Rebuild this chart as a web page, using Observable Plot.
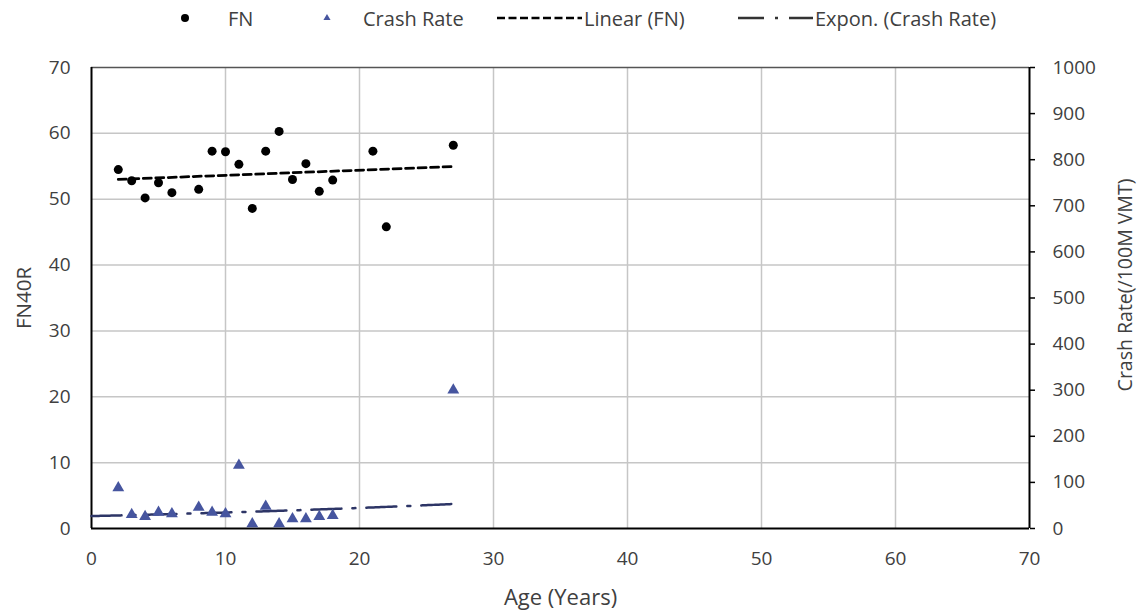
<!DOCTYPE html>
<html>
<head>
<meta charset="utf-8">
<script src="https://cdn.jsdelivr.net/npm/d3@7"></script>
<script src="https://cdn.jsdelivr.net/npm/@observablehq/plot@0.6"></script>
<style>
  html, body { margin: 0; padding: 0; background: #fff; }
  body { width: 1143px; height: 611px; overflow: hidden; font-family: "Open Sans", sans-serif; }
  #legend { position: relative; height: 36px; width: 1143px; color: #404040; font-size: 20px; }
  #legend .item { position: absolute; top: 0; height: 36px; display: flex; align-items: center; white-space: nowrap; }
  #legend svg { display: block; }
</style>
</head>
<body>
<div id="legend"></div>
<div id="chart"></div>
<script>
// ---- data ----
const fnAges = [2, 3, 4, 5, 6, 8, 9, 10, 11, 12, 13, 14, 15, 16, 17, 18, 21, 22, 27];
const fnValues = [54.5, 52.8, 50.2, 52.5, 51.0, 51.5, 57.3, 57.2, 55.3, 48.6, 57.3, 60.3, 53.0, 55.4, 51.2, 52.9, 57.3, 45.8, 58.2];
const crashAges = [2, 3, 4, 5, 6, 8, 9, 10, 11, 12, 13, 14, 15, 16, 17, 18, 27];
const crashRates = [88, 30, 26, 35, 32, 46, 35, 32, 137, 10, 48, 10, 21, 21, 26, 28, 300];
const xTicks = [0, 10, 20, 30, 40, 50, 60, 70];
const yLeftTicks = [0, 10, 20, 30, 40, 50, 60, 70];
const yRightTicks = [0, 100, 200, 300, 400, 500, 600, 700, 800, 900, 1000];
const legendLabels = ["FN", "Crash Rate", "Linear (FN)", "Expon. (Crash Rate)"];
const xTitle = "Age (Years)";
const yLeftTitle = "FN40R";
const yRightTitle = "Crash Rate(/100M VMT)";
const expBackwardForecast = 2; // trendline forecast backward (periods)

// ---- derived tables ----
const leftMax = 70, rightMax = 1000;
const k = leftMax / rightMax; // right axis -> left axis units
const fnData = fnAges.map((a, i) => ({age: a, fn: fnValues[i]}));
const crashData = crashAges.map((a, i) => ({age: a, rate: crashRates[i], y: crashRates[i] * k}));

// Excel-style exponential trendline: least squares on ln(y)
const mx = d3.mean(crashAges), ml = d3.mean(crashRates, v => Math.log(v));
const sxy = d3.sum(crashAges, (x, i) => (x - mx) * (Math.log(crashRates[i]) - ml));
const sxx = d3.sum(crashAges, x => (x - mx) ** 2);
const b = sxy / sxx, a = Math.exp(ml - b * mx);
const x0 = d3.min(crashAges) - expBackwardForecast, x1 = d3.max(crashAges);
const expTrend = d3.range(0, 201).map(i => {
  const x = x0 + (x1 - x0) * i / 200;
  return {age: x, y: a * Math.exp(b * x) * k};
});

const textColor = "#404040";
const gridColor = "#c6c6c6";
const fnColor = "#000000";
const crashColor = "#46559f";
const expColor = "#2d3566";

const chart = Plot.plot({
  width: 1143,
  height: 575,
  marginLeft: 91,
  marginRight: 114,
  marginTop: 31,
  marginBottom: 83,
  style: {fontFamily: "'Open Sans', sans-serif", fontSize: "19px", color: textColor, background: "#fff"},
  x: {domain: [0, 70]},
  y: {domain: [0, 70]},
  marks: [
    Plot.gridX(xTicks.slice(1, -1), {stroke: gridColor, strokeOpacity: 1, strokeWidth: 1.5}),
    Plot.gridY(yLeftTicks.slice(1, -1), {stroke: gridColor, strokeOpacity: 1, strokeWidth: 1.5}),
    Plot.ruleY([leftMax], {stroke: "#555", strokeWidth: 1.5}),
    Plot.axisX(xTicks, {tickSize: 0, tickPadding: 23, label: null, fontSize: 19, fill: textColor}),
    Plot.axisY(yLeftTicks, {anchor: "left", tickSize: 0, tickPadding: 21, label: null, fontSize: 19, fill: textColor}),
    Plot.axisY(yRightTicks.map(v => v * k), {
      anchor: "right", tickSize: 5, tickPadding: 18, label: null, fontSize: 19, fill: textColor,
      stroke: "#000", strokeWidth: 1.5,
      tickFormat: d => String(Math.round(d / k))
    }),
    Plot.ruleX([0], {stroke: "#000", strokeWidth: 2}),
    Plot.ruleX([70], {stroke: "#000", strokeWidth: 2}),
    Plot.ruleY([0], {stroke: "#000", strokeWidth: 2}),
    Plot.text([xTitle], {frameAnchor: "bottom", dy: 69, lineAnchor: "middle", textAnchor: "middle", fontSize: 22, fill: textColor}),
    Plot.text([yLeftTitle], {frameAnchor: "left", dx: -67, dy: 0, rotate: -90, lineAnchor: "middle", textAnchor: "middle", fontSize: 20.5, fill: textColor}),
    Plot.text([yRightTitle], {frameAnchor: "right", dx: 96, dy: -13, rotate: -90, lineAnchor: "middle", textAnchor: "middle", fontSize: 19.5, fill: textColor}),
    Plot.linearRegressionY(fnData, {x: "age", y: "fn", ci: 0, stroke: "#000", strokeWidth: 2.75, strokeDasharray: "8,4.5"}),
    Plot.line(expTrend, {x: "age", y: "y", stroke: expColor, strokeWidth: 2.5, strokeDasharray: "30,11,3,11"}),
    Plot.dot(fnData, {x: "age", y: "fn", r: 4.5, fill: fnColor, stroke: "none"}),
    Plot.dot(crashData, {x: "age", y: "y", symbol: "triangle", r: 4.4, fill: crashColor, stroke: "none"})
  ]
});
document.getElementById("chart").appendChild(chart);

// ---- legend ----
const legend = d3.select("#legend");
const legendLeft = [178, 319, 496, 737];
const swatchW = [50, 44, 88, 78];
legendLabels.forEach((label, i) => {
  const item = legend.append("div").attr("class", "item").style("left", legendLeft[i] + "px");
  const svg = item.append("svg").attr("width", swatchW[i]).attr("height", 20);
  if (i === 0) svg.append("circle").attr("cx", 7).attr("cy", 10).attr("r", 4).attr("fill", fnColor);
  if (i === 1) svg.append("path").attr("d", d3.symbol(d3.symbolTriangle, 22)()).attr("transform", "translate(8,10)").attr("fill", crashColor);
  if (i === 2) svg.append("line").attr("x1", 1).attr("x2", swatchW[i] - 2).attr("y1", 10).attr("y2", 10)
    .attr("stroke", "#000").attr("stroke-width", 2.5).attr("stroke-dasharray", "8,3.5");
  if (i === 3) svg.append("line").attr("x1", 1).attr("x2", swatchW[i] - 2).attr("y1", 10).attr("y2", 10)
    .attr("stroke", "#333").attr("stroke-width", 2.5).attr("stroke-dasharray", "26,11,3,11");
  item.append("span").text(label);
});
</script>
</body>
</html>
